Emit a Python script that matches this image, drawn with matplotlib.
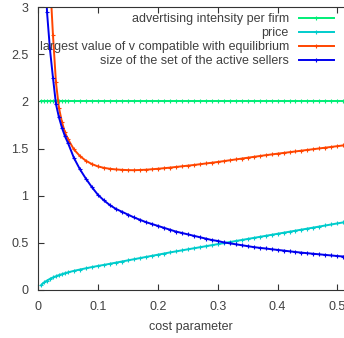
import matplotlib
matplotlib.use("Agg")
import matplotlib.pyplot as plt

plt.rcParams['font.family'] = ['Liberation Sans', 'DejaVu Sans']

cost = [0.005, 0.01, 0.015, 0.02, 0.025, 0.03, 0.035, 0.04, 0.045, 0.05,
        0.06, 0.07, 0.08, 0.09, 0.10, 0.11, 0.12, 0.13, 0.14, 0.15,
        0.16, 0.17, 0.18, 0.19, 0.20, 0.21, 0.22, 0.23, 0.24, 0.25,
        0.26, 0.27, 0.28, 0.29, 0.30, 0.31, 0.32, 0.33, 0.34, 0.35,
        0.36, 0.37, 0.38, 0.39, 0.40, 0.41, 0.42, 0.43, 0.44, 0.45,
        0.46, 0.47, 0.48, 0.49, 0.50, 0.51]

advertising = [2.0, 2.0, 2.0, 2.0, 2.0, 2.0, 2.0, 2.0, 2.0, 2.0,
               2.0, 2.0, 2.0, 2.0, 2.0, 2.0, 2.0, 2.0, 2.0, 2.0,
               2.0, 2.0, 2.0, 2.0, 2.0, 2.0, 2.0, 2.0, 2.0, 2.0,
               2.0, 2.0, 2.0, 2.0, 2.0, 2.0, 2.0, 2.0, 2.0, 2.0,
               2.0, 2.0, 2.0, 2.0, 2.0, 2.0, 2.0, 2.0, 2.0, 2.0,
               2.0, 2.0, 2.0, 2.0, 2.0, 2.0]

price = [0.05, 0.08, 0.10, 0.118, 0.133, 0.146, 0.158, 0.168, 0.178, 0.187,
         0.203, 0.217, 0.23, 0.243, 0.255, 0.266, 0.278, 0.29, 0.302, 0.314,
         0.326, 0.338, 0.35, 0.362, 0.374, 0.386, 0.398, 0.409, 0.42, 0.431,
         0.442, 0.453, 0.464, 0.475, 0.486, 0.497, 0.508, 0.519, 0.53, 0.541,
         0.552, 0.563, 0.574, 0.585, 0.596, 0.607, 0.618, 0.629, 0.64, 0.651,
         0.662, 0.673, 0.684, 0.695, 0.706, 0.717]

v_max = [12.0, 6.0, 4.2, 3.3, 2.7, 2.2, 1.93, 1.78, 1.67, 1.60,
         1.49, 1.42, 1.37, 1.335, 1.31, 1.295, 1.285, 1.278, 1.274, 1.271,
         1.27, 1.272, 1.275, 1.28, 1.285, 1.291, 1.297, 1.304, 1.311, 1.318,
         1.325, 1.333, 1.341, 1.349, 1.357, 1.366, 1.375, 1.384, 1.393, 1.402,
         1.411, 1.42, 1.429, 1.437, 1.445, 1.453, 1.461, 1.469, 1.477, 1.485,
         1.493, 1.501, 1.509, 1.517, 1.525, 1.533]

active_sellers = [5.6, 3.9, 2.95, 2.55, 2.25, 1.97, 1.83, 1.72, 1.63, 1.56,
                  1.40, 1.28, 1.18, 1.09, 1.01, 0.95, 0.90, 0.86, 0.83, 0.80,
                  0.77, 0.745, 0.72, 0.70, 0.68, 0.66, 0.64, 0.62, 0.605, 0.59,
                  0.575, 0.56, 0.545, 0.53, 0.52, 0.505, 0.495, 0.485, 0.475, 0.465,
                  0.455, 0.447, 0.44, 0.432, 0.425, 0.418, 0.41, 0.403, 0.396, 0.39,
                  0.384, 0.378, 0.372, 0.366, 0.36, 0.355]

labels = ["advertising intensity per firm",
          "price",
          "largest value of v compatible with equilibrium",
          "size of the set of the active sellers"]
colors = ["#00ee77", "#00cccc", "#ff4500", "#0000ee"]

x_ticks = [0, 0.1, 0.2, 0.3, 0.4, 0.5]
x_tick_labels = ["0", "0.1", "0.2", "0.3", "0.4", "0.5"]
y_ticks = [0, 0.5, 1, 1.5, 2, 2.5, 3]
y_tick_labels = ["0", "0.5", "1", "1.5", "2", "2.5", "3"]

fig = plt.figure(figsize=(3.44, 3.38), dpi=100)
ax = fig.add_axes([38 / 344, 48 / 338, 306 / 344, 283 / 338])

series = [advertising, price, v_max, active_sellers]
for ys, lab, col in zip(series, labels, colors):
    ax.plot(cost, ys, color=col, lw=1.4, marker='+', ms=2.5, mew=0.8, label=lab)

ax.set_xlim(0, 0.511)
ax.set_ylim(0, 3)
ax.set_xticks(x_ticks)
ax.set_xticklabels(x_tick_labels)
ax.set_yticks(y_ticks)
ax.set_yticklabels(y_tick_labels)
ax.tick_params(direction='in', length=4, width=0.8, color='#333333',
               labelsize=9, labelcolor='#404040', top=True, right=False)
ax.tick_params(axis='y', pad=7)
ax.tick_params(axis='x', pad=8)
for side in ['left', 'bottom', 'top']:
    ax.spines[side].set_color('#333333')
    ax.spines[side].set_linewidth(0.8)
ax.spines['right'].set_visible(False)

ax.set_xlabel("cost parameter", fontsize=9, color='#404040', labelpad=6)

leg = ax.legend(loc='upper right', bbox_to_anchor=(0.967, 0.979), frameon=False,
                markerfirst=False, fontsize=9, handlelength=2.8,
                handletextpad=0.8, labelspacing=0.16, borderaxespad=0.0,
                numpoints=1, borderpad=0.0)
for t in leg.get_texts():
    t.set_color('#404040')

fig.savefig("out.png", dpi=100)
